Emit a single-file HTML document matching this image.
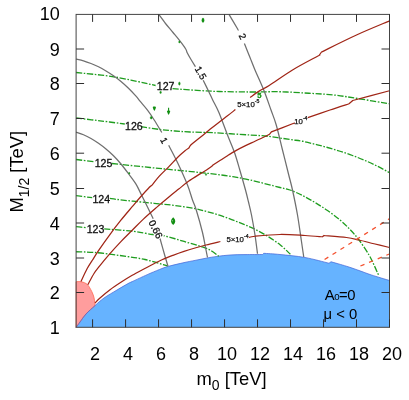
<!DOCTYPE html><html><head><meta charset="utf-8"><style>html,body{margin:0;padding:0;background:#fff;width:409px;height:400px;overflow:hidden}</style></head><body><svg width="409" height="400" viewBox="0 0 409 400" style="position:absolute;left:0;top:0;will-change:transform">
<rect width="409" height="400" fill="#fff"/>
<path d="M76.10 327.30C76.75 326.42 78.35 324.22 80.00 322.00C81.65 319.78 83.50 316.73 86.00 314.00C88.50 311.27 92.00 308.27 95.00 305.60C98.00 302.93 100.33 300.60 104.00 298.00C107.67 295.40 113.00 292.40 117.00 290.00C121.00 287.60 125.47 285.00 128.00 283.60C130.53 282.20 129.63 282.80 132.20 281.60C134.77 280.40 140.27 277.83 143.40 276.40C146.53 274.97 147.90 274.32 151.00 273.00C154.10 271.68 159.07 269.62 162.00 268.50C164.93 267.38 164.93 267.28 168.60 266.30C172.27 265.32 179.60 263.58 184.00 262.60C188.40 261.62 191.33 261.13 195.00 260.40C198.67 259.67 202.33 258.87 206.00 258.20C209.67 257.53 213.00 256.93 217.00 256.40C221.00 255.87 225.33 255.30 230.00 255.00C234.67 254.70 239.58 254.68 245.00 254.60C250.42 254.52 259.58 254.52 262.50 254.50L263.75 253.30C266.46 253.50 273.12 253.80 280.00 254.50C286.88 255.20 296.83 256.04 305.00 257.50C313.17 258.96 325.00 262.29 329.00 263.25L331.00 261.75C333.58 262.50 341.83 264.79 346.50 266.25C351.17 267.71 354.83 269.04 359.00 270.50C363.17 271.96 366.42 273.33 371.50 275.00C376.58 276.67 386.50 279.58 389.50 280.50L389.5 327.3L76.1 327.3Z" fill="#66b3ff" stroke="none"/>
<path d="M76.10 281.75C76.96 281.75 79.39 281.31 81.25 281.75C83.11 282.19 85.50 282.77 87.25 284.40C89.00 286.02 90.62 289.32 91.75 291.50C92.88 293.68 93.50 295.62 94.00 297.50C94.50 299.38 94.58 301.40 94.75 302.75C94.92 304.10 94.96 305.12 95.00 305.60L95.00 305.60C93.50 307.00 88.50 311.27 86.00 314.00C83.50 316.73 81.65 319.78 80.00 322.00C78.35 324.22 76.75 326.42 76.10 327.30Z" fill="#ff9d9d" stroke="#ff5a40" stroke-width="0.7"/>
<path d="M76.10 327.30C76.75 326.42 78.35 324.22 80.00 322.00C81.65 319.78 83.50 316.73 86.00 314.00C88.50 311.27 92.00 308.27 95.00 305.60C98.00 302.93 100.33 300.60 104.00 298.00C107.67 295.40 113.00 292.40 117.00 290.00C121.00 287.60 125.47 285.00 128.00 283.60C130.53 282.20 129.63 282.80 132.20 281.60C134.77 280.40 140.27 277.83 143.40 276.40C146.53 274.97 147.90 274.32 151.00 273.00C154.10 271.68 159.07 269.62 162.00 268.50C164.93 267.38 164.93 267.28 168.60 266.30C172.27 265.32 179.60 263.58 184.00 262.60C188.40 261.62 191.33 261.13 195.00 260.40C198.67 259.67 202.33 258.87 206.00 258.20C209.67 257.53 213.00 256.93 217.00 256.40C221.00 255.87 225.33 255.30 230.00 255.00C234.67 254.70 239.58 254.68 245.00 254.60C250.42 254.52 259.58 254.52 262.50 254.50L263.75 253.30C266.46 253.50 273.12 253.80 280.00 254.50C286.88 255.20 296.83 256.04 305.00 257.50C313.17 258.96 325.00 262.29 329.00 263.25L331.00 261.75C333.58 262.50 341.83 264.79 346.50 266.25C351.17 267.71 354.83 269.04 359.00 270.50C363.17 271.96 366.42 273.33 371.50 275.00C376.58 276.67 386.50 279.58 389.50 280.50" fill="none" stroke="#4062d6" stroke-width="0.7"/>
<path d="M76.10 72.50C82.58 73.25 101.75 74.83 115.00 77.00C128.25 79.17 148.83 84.08 155.60 85.50" fill="none" stroke="#1f9d1f" stroke-width="1.3" stroke-dasharray="6.2 1.6 1.6 1.6"/>
<path d="M172.60 88.70C179.25 89.12 199.60 90.70 212.50 91.25C225.40 91.80 238.75 91.92 250.00 92.00C261.25 92.08 270.17 91.54 280.00 91.75C289.83 91.96 300.00 92.71 309.00 93.25C318.00 93.79 325.67 94.08 334.00 95.00C342.33 95.92 349.75 97.29 359.00 98.75C368.25 100.21 384.42 102.92 389.50 103.75" fill="none" stroke="#1f9d1f" stroke-width="1.3" stroke-dasharray="6.2 1.6 1.6 1.6"/>
<path d="M76.10 118.00C80.08 118.47 91.88 119.80 100.00 120.80C108.12 121.80 120.67 123.47 124.80 124.00" fill="none" stroke="#1f9d1f" stroke-width="1.3" stroke-dasharray="6.2 1.6 1.6 1.6"/>
<path d="M141.00 126.70C144.17 127.17 154.33 128.78 160.00 129.50C165.67 130.22 170.00 130.58 175.00 131.00C180.00 131.42 183.75 131.72 190.00 132.00C196.25 132.28 202.50 132.20 212.50 132.70C222.50 133.20 240.83 134.41 250.00 135.00C259.17 135.59 260.83 135.50 267.50 136.25C274.17 137.00 284.17 138.67 290.00 139.50C295.83 140.33 298.33 140.46 302.50 141.25C306.67 142.04 310.83 143.21 315.00 144.25C319.17 145.29 323.33 146.33 327.50 147.50C331.67 148.67 335.83 149.92 340.00 151.25C344.17 152.58 348.33 153.96 352.50 155.50C356.67 157.04 360.83 158.71 365.00 160.50C369.17 162.29 373.42 164.22 377.50 166.25C381.58 168.28 387.50 171.62 389.50 172.70" fill="none" stroke="#1f9d1f" stroke-width="1.3" stroke-dasharray="6.2 1.6 1.6 1.6"/>
<path d="M76.10 159.50C79.08 159.87 91.02 161.33 94.00 161.70" fill="none" stroke="#1f9d1f" stroke-width="1.3" stroke-dasharray="6.2 1.6 1.6 1.6"/>
<path d="M112.00 163.50C118.33 164.17 139.50 166.42 150.00 167.50C160.50 168.58 166.67 169.17 175.00 170.00C183.33 170.83 191.67 171.58 200.00 172.50C208.33 173.42 216.67 174.25 225.00 175.50C233.33 176.75 240.83 178.00 250.00 180.00C259.17 182.00 273.33 185.83 280.00 187.50C286.67 189.17 286.25 188.67 290.00 190.00C293.75 191.33 298.33 193.42 302.50 195.50C306.67 197.58 310.83 200.00 315.00 202.50C319.17 205.00 323.33 207.58 327.50 210.50C331.67 213.42 336.25 216.83 340.00 220.00C343.75 223.17 346.83 226.17 350.00 229.50C353.17 232.83 355.83 235.75 359.00 240.00C362.17 244.25 366.50 250.83 369.00 255.00C371.50 259.17 372.42 261.67 374.00 265.00C375.58 268.33 377.75 273.33 378.50 275.00" fill="none" stroke="#1f9d1f" stroke-width="1.3" stroke-dasharray="6.2 1.6 1.6 1.6"/>
<path d="M76.10 195.70C78.78 196.03 89.52 197.37 92.20 197.70" fill="none" stroke="#1f9d1f" stroke-width="1.3" stroke-dasharray="6.2 1.6 1.6 1.6"/>
<path d="M109.80 198.40C111.50 198.63 114.13 199.13 120.00 199.80C125.87 200.47 138.48 201.73 145.00 202.40C151.52 203.07 154.10 203.28 159.10 203.80C164.10 204.32 169.02 204.70 175.00 205.50C180.98 206.30 189.63 207.57 195.00 208.60C200.37 209.63 203.13 210.60 207.20 211.70C211.27 212.80 215.32 213.88 219.40 215.20C223.48 216.52 227.62 218.07 231.70 219.60C235.78 221.13 239.83 222.70 243.90 224.40C247.97 226.10 252.03 227.75 256.10 229.80C260.17 231.85 264.22 234.13 268.30 236.70C272.38 239.27 276.92 242.27 280.60 245.20C284.28 248.13 288.77 252.78 290.40 254.30" fill="none" stroke="#1f9d1f" stroke-width="1.3" stroke-dasharray="6.2 1.6 1.6 1.6"/>
<path d="M76.10 226.60C77.77 226.78 84.43 227.52 86.10 227.70" fill="none" stroke="#1f9d1f" stroke-width="1.3" stroke-dasharray="6.2 1.6 1.6 1.6"/>
<path d="M104.20 228.80C108.92 229.21 124.45 230.30 132.50 231.25C140.55 232.20 147.50 233.79 152.50 234.50C157.50 235.21 158.75 234.79 162.50 235.50C166.25 236.21 170.83 237.58 175.00 238.75C179.17 239.92 183.33 241.25 187.50 242.50C191.67 243.75 196.25 245.00 200.00 246.25C203.75 247.50 206.88 248.33 210.00 250.00C213.12 251.67 217.29 255.21 218.75 256.25" fill="none" stroke="#1f9d1f" stroke-width="1.3" stroke-dasharray="6.2 1.6 1.6 1.6"/>
<path d="M76.10 251.75C79.25 251.88 87.68 251.88 95.00 252.50C102.32 253.12 111.67 254.33 120.00 255.50C128.33 256.67 137.08 257.75 145.00 259.50C152.92 261.25 163.75 264.92 167.50 266.00" fill="none" stroke="#1f9d1f" stroke-width="1.3" stroke-dasharray="6.2 1.6 1.6 1.6"/>
<path d="M76.10 132.20C77.33 132.62 81.02 133.70 83.50 134.75C85.98 135.80 88.50 137.07 91.00 138.50C93.50 139.93 96.00 141.55 98.50 143.30C101.00 145.05 103.50 146.93 106.00 149.00C108.50 151.07 111.00 153.25 113.50 155.75C116.00 158.25 118.50 161.00 121.00 164.00C123.50 167.00 126.00 170.38 128.50 173.75C131.00 177.12 133.83 180.66 136.00 184.20C138.17 187.74 139.58 191.20 141.50 195.00C143.42 198.80 145.55 203.05 147.50 207.00C149.45 210.95 152.25 216.75 153.20 218.70" fill="none" stroke="#6f6f6f" stroke-width="1.25"/>
<path d="M160.00 238.50C160.83 241.46 163.67 251.62 165.00 256.25C166.33 260.88 167.50 264.58 168.00 266.25" fill="none" stroke="#6f6f6f" stroke-width="1.25"/>
<path d="M76.10 59.00C77.33 59.30 81.02 60.05 83.50 60.80C85.98 61.55 88.50 62.50 91.00 63.50C93.50 64.50 96.00 65.55 98.50 66.80C101.00 68.05 103.50 69.50 106.00 71.00C108.50 72.50 111.00 74.05 113.50 75.80C116.00 77.55 118.50 79.42 121.00 81.50C123.50 83.58 126.00 85.85 128.50 88.30C131.00 90.75 134.08 94.05 136.00 96.20C137.92 98.35 138.08 98.87 140.00 101.20C141.92 103.53 145.13 107.07 147.50 110.20C149.87 113.33 151.82 116.28 154.20 120.00C156.58 123.72 160.53 130.42 161.80 132.50" fill="none" stroke="#6f6f6f" stroke-width="1.25"/>
<path d="M168.70 145.30C170.17 148.17 174.37 155.88 177.50 162.50C180.63 169.12 185.00 178.75 187.50 185.00C190.00 191.25 191.04 195.83 192.50 200.00C193.96 204.17 194.58 204.58 196.25 210.00C197.92 215.42 200.96 226.25 202.50 232.50C204.04 238.75 204.67 243.33 205.50 247.50C206.33 251.67 207.17 255.83 207.50 257.50" fill="none" stroke="#6f6f6f" stroke-width="1.25"/>
<path d="M158.75 14.40C159.88 15.92 163.12 20.48 165.50 23.50C167.88 26.52 170.63 29.63 173.00 32.50C175.37 35.37 177.58 37.95 179.70 40.70C181.82 43.45 184.45 47.00 185.70 49.00C186.95 51.00 186.32 50.95 187.20 52.70C188.08 54.45 189.62 57.17 191.00 59.50C192.38 61.83 194.75 65.50 195.50 66.70" fill="none" stroke="#6f6f6f" stroke-width="1.25"/>
<path d="M203.20 80.20C204.12 82.08 207.12 88.20 208.70 91.50C210.28 94.80 211.02 96.53 212.70 100.00C214.38 103.47 216.33 106.47 218.80 112.30C221.27 118.13 224.88 128.30 227.50 135.00C230.12 141.70 232.45 146.67 234.50 152.50C236.55 158.33 237.97 163.75 239.80 170.00C241.63 176.25 244.05 184.67 245.50 190.00C246.95 195.33 247.50 197.83 248.50 202.00C249.50 206.17 250.42 209.50 251.50 215.00C252.58 220.50 254.00 228.54 255.00 235.00C256.00 241.46 257.08 250.62 257.50 253.75" fill="none" stroke="#6f6f6f" stroke-width="1.25"/>
<path d="M229.00 14.40C230.42 16.79 236.00 26.15 237.50 28.75C239.00 31.35 237.92 29.79 238.00 30.00" fill="none" stroke="#6f6f6f" stroke-width="1.25"/>
<path d="M244.40 43.60C245.33 45.92 248.23 53.10 250.00 57.50C251.77 61.90 252.71 64.58 255.00 70.00C257.29 75.42 261.08 83.33 263.75 90.00C266.42 96.67 268.92 104.17 271.00 110.00C273.08 115.83 274.33 118.33 276.25 125.00C278.17 131.67 280.42 141.67 282.50 150.00C284.58 158.33 287.08 168.33 288.75 175.00C290.42 181.67 291.04 183.33 292.50 190.00C293.96 196.67 296.04 206.67 297.50 215.00C298.96 223.33 300.21 233.00 301.25 240.00C302.29 247.00 303.33 254.17 303.75 257.00" fill="none" stroke="#6f6f6f" stroke-width="1.25"/>
<path d="M81.00 281.40C82.03 279.25 85.28 272.07 87.20 268.50C89.12 264.93 90.62 262.98 92.50 260.00C94.38 257.02 95.63 254.80 98.50 250.60C101.37 246.40 105.97 239.87 109.70 234.80C113.43 229.73 117.15 224.88 120.90 220.20C124.65 215.52 129.08 210.40 132.20 206.70C135.32 203.00 136.73 201.25 139.60 198.00C142.47 194.75 147.28 189.40 149.40 187.20C151.52 185.00 150.68 186.60 152.30 184.80C153.92 183.00 156.33 179.43 159.10 176.40C161.87 173.37 165.83 169.75 168.90 166.60C171.97 163.45 174.82 160.13 177.50 157.50C180.18 154.87 183.12 152.37 185.00 150.80C186.88 149.23 188.17 148.55 188.80 148.10L190.30 145.50C190.67 145.18 190.67 145.10 192.50 143.60C194.33 142.10 198.38 138.88 201.30 136.50C204.22 134.12 207.08 131.65 210.00 129.30C212.92 126.95 215.88 124.65 218.80 122.40C221.72 120.15 224.73 117.93 227.50 115.80C230.27 113.67 234.08 110.63 235.40 109.60M250.10 97.50C251.65 96.40 256.22 92.90 259.40 90.90C262.58 88.90 263.68 88.98 269.20 85.50C274.72 82.02 284.45 74.88 292.50 70.00C300.55 65.12 313.08 58.67 317.50 56.25C321.92 53.83 318.75 55.62 319.00 55.50L321.50 52.00C327.33 49.17 345.17 40.18 356.50 35.00C367.83 29.82 384.00 23.25 389.50 20.90" fill="none" stroke="#a02516" stroke-width="1.25" stroke-linejoin="round"/>
<path d="M87.80 284.80C88.83 282.92 92.22 276.40 94.00 273.50C95.78 270.60 95.88 270.67 98.50 267.40C101.12 264.13 105.97 258.20 109.70 253.90C113.43 249.60 117.15 245.53 120.90 241.60C124.65 237.67 128.45 234.05 132.20 230.30C135.95 226.55 139.43 222.83 143.40 219.10C147.37 215.37 151.75 211.58 156.00 207.90C160.25 204.22 165.12 200.13 168.90 197.00C172.68 193.87 175.43 191.72 178.70 189.10C181.97 186.48 184.95 183.83 188.50 181.30C192.05 178.77 197.00 175.78 200.00 173.90C203.00 172.02 204.53 171.28 206.50 170.00C208.47 168.72 210.92 166.83 211.80 166.20L213.00 165.00C213.97 164.38 216.38 162.85 218.80 161.30C221.22 159.75 224.58 157.52 227.50 155.70C230.42 153.88 233.38 152.03 236.30 150.40C239.22 148.77 241.88 147.43 245.00 145.90C248.12 144.38 251.83 142.73 255.00 141.25C258.17 139.77 261.57 138.18 264.00 137.00C266.43 135.82 268.67 134.67 269.60 134.20L271.40 131.90C274.92 130.54 288.82 125.15 292.50 123.75C296.18 122.35 293.33 123.54 293.50 123.50M307.80 117.70C311.50 116.42 323.13 112.33 330.00 110.00C336.87 107.67 345.83 104.79 349.00 103.75L352.75 100.50C358.88 98.88 383.38 92.38 389.50 90.75" fill="none" stroke="#a02516" stroke-width="1.25" stroke-linejoin="round"/>
<path d="M95.00 303.00C95.83 302.17 97.55 300.17 100.00 298.00C102.45 295.83 106.22 292.62 109.70 290.00C113.18 287.38 117.15 284.75 120.90 282.30C124.65 279.85 128.45 277.48 132.20 275.30C135.95 273.12 140.27 270.88 143.40 269.20C146.53 267.52 147.90 266.78 151.00 265.20C154.10 263.62 158.33 261.35 162.00 259.70C165.67 258.05 169.33 256.68 173.00 255.30C176.67 253.92 180.33 252.62 184.00 251.40C187.67 250.18 191.33 249.07 195.00 248.00C198.67 246.93 201.77 246.08 206.00 245.00C210.23 243.92 218.00 242.08 220.40 241.50M248.90 237.50C249.92 237.29 249.82 236.75 255.00 236.25C260.18 235.75 271.67 234.62 280.00 234.50C288.33 234.38 297.92 235.12 305.00 235.50C312.08 235.88 319.58 236.54 322.50 236.75L324.00 235.50C327.75 235.83 340.67 236.75 346.50 237.50C352.33 238.25 354.42 238.96 359.00 240.00C363.58 241.04 368.92 242.50 374.00 243.75C379.08 245.00 386.92 246.88 389.50 247.50" fill="none" stroke="#a02516" stroke-width="1.25" stroke-linejoin="round"/>
<path d="M324.6 259.5L389.4 218.8" fill="none" stroke="#f4502e" stroke-width="1.3" stroke-dasharray="4.4 4.96"/>
<path d="M360.4 266L389.4 254" fill="none" stroke="#f4502e" stroke-width="1.3" stroke-dasharray="4.4 4.96"/>
<ellipse cx="203.00" cy="20.20" rx="1.15" ry="2.20" fill="#128f12" stroke="#128f12" stroke-width="0.35"/>
<ellipse cx="179.40" cy="42.00" rx="0.80" ry="0.95" fill="#128f12" stroke="#128f12" stroke-width="0.35"/>
<ellipse cx="179.40" cy="83.60" rx="0.85" ry="1.65" fill="#128f12" stroke="#128f12" stroke-width="0.35"/>
<ellipse cx="160.60" cy="92.40" rx="0.85" ry="1.15" fill="#128f12" stroke="#128f12" stroke-width="0.35"/>
<path d="M152.75 107.3Q152.8 106.3 154.3 106.6Q155.9 106.3 155.95 107.4Q155.6 109.3 154.4 110.9Q153.1 109.3 152.75 107.3Z" fill="#128f12"/>
<path d="M168.05 107.7H169.15V110.6L170.3 111.1Q169.8 113.4 168.6 115Q167.4 113.4 166.9 111.1L168.05 110.6Z" fill="#128f12"/>
<ellipse cx="151.20" cy="117.80" rx="1.00" ry="1.30" fill="#128f12" stroke="#128f12" stroke-width="0.35"/>
<ellipse cx="129.25" cy="173.25" rx="0.70" ry="0.90" fill="#128f12" stroke="#128f12" stroke-width="0.35"/>
<ellipse cx="206.00" cy="174.50" rx="0.70" ry="0.90" fill="#128f12" stroke="#128f12" stroke-width="0.35"/>
<path d="M173.2 217.3Q175.4 219.3 175.3 221.2Q175.2 223.3 173.2 225Q171.1 223.3 171 221.2Q171 219.3 173.2 217.3Z" fill="#128f12"/>
<circle cx="172.6" cy="220.8" r="0.55" fill="#bfe3bf"/>
<text x="257.3" y="97.7" font-family="Liberation Sans, sans-serif" font-size="7.6" font-weight="bold" fill="#159515" stroke="#159515" stroke-width="0.3">5</text>
<rect x="76.10" y="14.40" width="313.40" height="312.90" fill="none" stroke="#444" stroke-width="1"/>
<path d="M92.59 327.30V319.30M92.59 14.40V21.90M125.58 327.30V319.30M125.58 14.40V21.90M158.57 327.30V319.30M158.57 14.40V21.90M191.56 327.30V319.30M191.56 14.40V21.90M224.55 327.30V319.30M224.55 14.40V21.90M257.54 327.30V319.30M257.54 14.40V21.90M290.53 327.30V319.30M290.53 14.40V21.90M323.52 327.30V319.30M323.52 14.40V21.90M356.51 327.30V319.30M356.51 14.40V21.90M389.50 327.30V319.30M389.50 14.40V21.90M76.10 292.50H84.10M389.50 292.50H381.50M76.10 258.00H84.10M389.50 258.00H381.50M76.10 223.00H84.10M389.50 223.00H381.50M76.10 188.50H84.10M389.50 188.50H381.50M76.10 153.20H84.10M389.50 153.20H381.50M76.10 118.50H84.10M389.50 118.50H381.50M76.10 83.50H84.10M389.50 83.50H381.50M76.10 49.00H84.10M389.50 49.00H381.50" fill="none" stroke="#2e2e2e" stroke-width="1"/>
<text x="59.8" y="333.80" font-family="Liberation Sans, sans-serif" font-size="18" text-anchor="end" fill="#000">1</text>
<text x="59.8" y="299.00" font-family="Liberation Sans, sans-serif" font-size="18" text-anchor="end" fill="#000">2</text>
<text x="59.8" y="264.50" font-family="Liberation Sans, sans-serif" font-size="18" text-anchor="end" fill="#000">3</text>
<text x="59.8" y="229.50" font-family="Liberation Sans, sans-serif" font-size="18" text-anchor="end" fill="#000">4</text>
<text x="59.8" y="195.00" font-family="Liberation Sans, sans-serif" font-size="18" text-anchor="end" fill="#000">5</text>
<text x="59.8" y="159.70" font-family="Liberation Sans, sans-serif" font-size="18" text-anchor="end" fill="#000">6</text>
<text x="59.8" y="125.00" font-family="Liberation Sans, sans-serif" font-size="18" text-anchor="end" fill="#000">7</text>
<text x="59.8" y="90.00" font-family="Liberation Sans, sans-serif" font-size="18" text-anchor="end" fill="#000">8</text>
<text x="59.8" y="55.50" font-family="Liberation Sans, sans-serif" font-size="18" text-anchor="end" fill="#000">9</text>
<text x="59.8" y="19.90" font-family="Liberation Sans, sans-serif" font-size="18" text-anchor="end" fill="#000">10</text>
<text x="95.09" y="359.6" font-family="Liberation Sans, sans-serif" font-size="18" text-anchor="middle" fill="#000">2</text>
<text x="128.08" y="359.6" font-family="Liberation Sans, sans-serif" font-size="18" text-anchor="middle" fill="#000">4</text>
<text x="161.07" y="359.6" font-family="Liberation Sans, sans-serif" font-size="18" text-anchor="middle" fill="#000">6</text>
<text x="194.06" y="359.6" font-family="Liberation Sans, sans-serif" font-size="18" text-anchor="middle" fill="#000">8</text>
<text x="227.05" y="359.6" font-family="Liberation Sans, sans-serif" font-size="18" text-anchor="middle" fill="#000">10</text>
<text x="260.04" y="359.6" font-family="Liberation Sans, sans-serif" font-size="18" text-anchor="middle" fill="#000">12</text>
<text x="293.03" y="359.6" font-family="Liberation Sans, sans-serif" font-size="18" text-anchor="middle" fill="#000">14</text>
<text x="326.02" y="359.6" font-family="Liberation Sans, sans-serif" font-size="18" text-anchor="middle" fill="#000">16</text>
<text x="359.01" y="359.6" font-family="Liberation Sans, sans-serif" font-size="18" text-anchor="middle" fill="#000">18</text>
<text x="392.00" y="359.6" font-family="Liberation Sans, sans-serif" font-size="18" text-anchor="middle" fill="#000">20</text>
<text x="196.5" y="384.6" font-family="Liberation Sans, sans-serif" font-size="18.4" fill="#000">m<tspan font-size="14" dy="5.6">0</tspan><tspan dy="-5.6"> [TeV]</tspan></text>
<text transform="translate(23.0,212.6) rotate(-90)" font-family="Liberation Sans, sans-serif" font-size="18.4" fill="#000">M<tspan font-size="14" dy="5.6">1/2</tspan><tspan dy="-5.6"> [TeV]</tspan></text>
<text x="324.8" y="299.8" font-family="Liberation Sans, sans-serif" font-size="14.8" fill="#000" letter-spacing="-0.45">A<tspan font-size="9.6" dy="0">0</tspan><tspan>=0</tspan></text>
<text x="323.6" y="319.0" font-family="Liberation Sans, sans-serif" font-size="14.8" fill="#000">μ &lt; 0</text>
<text x="165.60" y="89.82" font-family="Liberation Sans, sans-serif" font-size="10.6" text-anchor="middle" fill="#111" stroke="#111" stroke-width="0.3" transform="rotate(0.0 165.60 86.00)">127</text>
<text x="133.90" y="130.02" font-family="Liberation Sans, sans-serif" font-size="10.6" text-anchor="middle" fill="#111" stroke="#111" stroke-width="0.3" transform="rotate(0.0 133.90 126.20)">126</text>
<text x="103.50" y="166.92" font-family="Liberation Sans, sans-serif" font-size="10.6" text-anchor="middle" fill="#111" stroke="#111" stroke-width="0.3" transform="rotate(0.0 103.50 163.10)">125</text>
<text x="101.30" y="202.92" font-family="Liberation Sans, sans-serif" font-size="10.6" text-anchor="middle" fill="#111" stroke="#111" stroke-width="0.3" transform="rotate(0.0 101.30 199.10)">124</text>
<text x="95.50" y="233.12" font-family="Liberation Sans, sans-serif" font-size="10.6" text-anchor="middle" fill="#111" stroke="#111" stroke-width="0.3" transform="rotate(0.0 95.50 229.30)">123</text>
<rect x="145.80" y="224.90" width="20.00" height="8.60" fill="#fff" transform="rotate(63.0 155.80 229.20)"/><text x="155.80" y="232.76" font-family="Liberation Sans, sans-serif" font-size="9.9" text-anchor="middle" fill="#111" stroke="#111" stroke-width="0.3" transform="rotate(63.0 155.80 229.20)">0.66</text>
<text x="164.20" y="143.98" font-family="Liberation Sans, sans-serif" font-size="9.4" text-anchor="middle" fill="#111" stroke="#111" stroke-width="0.3" transform="rotate(62.0 164.20 140.60)">1</text>
<text x="200.80" y="76.26" font-family="Liberation Sans, sans-serif" font-size="9.6" text-anchor="middle" fill="#111" stroke="#111" stroke-width="0.3" transform="rotate(60.0 200.80 72.80)">1.5</text>
<text x="242.60" y="39.78" font-family="Liberation Sans, sans-serif" font-size="9.4" text-anchor="middle" fill="#111" stroke="#111" stroke-width="0.3" transform="rotate(64.0 242.60 36.40)">2</text>
<text x="237.20" y="107.00" font-family="Liberation Sans, sans-serif" font-size="7.8" fill="#111" stroke="#111" stroke-width="0.25">5×10<tspan font-size="5.2" dy="-3.9">-5</tspan></text>
<text x="294.20" y="124.10" font-family="Liberation Sans, sans-serif" font-size="7.8" fill="#111" stroke="#111" stroke-width="0.25">10<tspan font-size="5.2" dy="-3.9">-4</tspan></text>
<text x="226.40" y="241.50" font-family="Liberation Sans, sans-serif" font-size="7.8" fill="#111" stroke="#111" stroke-width="0.25">5×10<tspan font-size="5.2" dy="-3.9">-4</tspan></text>
</svg></body></html>
